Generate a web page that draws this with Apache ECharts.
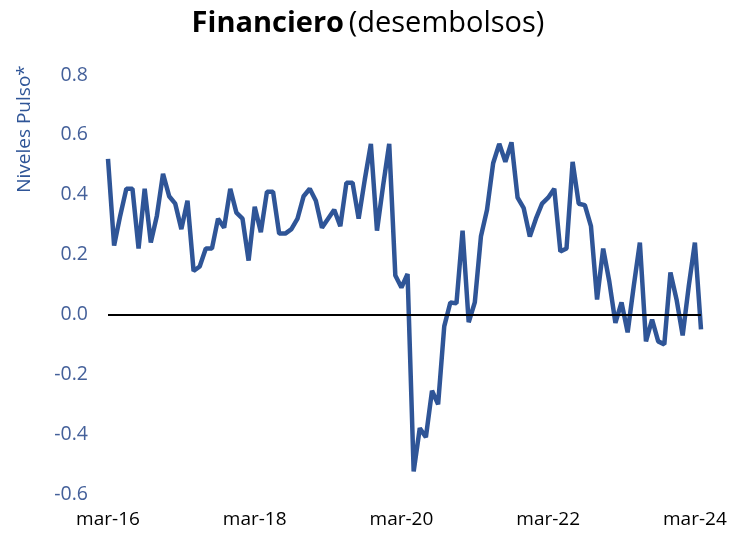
<!DOCTYPE html>
<html>
<head>
<meta charset="utf-8">
<script src="https://cdn.jsdelivr.net/npm/echarts@6/dist/echarts.min.js"></script>
<style>
  html, body { margin: 0; padding: 0; background: #fff; }
  #chart { width: 736px; height: 533px; }
</style>
</head>
<body>
<div id="chart"></div>
<script>
// meses mar-16 .. abr-24
var months = ['ene','feb','mar','abr','may','jun','jul','ago','sep','oct','nov','dic'];
var categories = [];
for (var k = 0; k < 98; k++) {
  var m = (2 + k) % 12;
  var y = 16 + Math.floor((2 + k) / 12);
  categories.push(months[m] + '-' + y);
}

// niveles pulso, financiero (desembolsos)
var pulso = [
  0.52, 0.23, 0.33, 0.42, 0.42, 0.22, 0.42, 0.24, 0.33, 0.47,
  0.395, 0.37, 0.285, 0.38, 0.145, 0.16, 0.22, 0.22, 0.32, 0.29,
  0.42, 0.34, 0.32, 0.18, 0.36, 0.275, 0.41, 0.41, 0.27, 0.27,
  0.285, 0.32, 0.395, 0.42, 0.38, 0.29, 0.32, 0.35, 0.295, 0.44,
  0.44, 0.32, 0.45, 0.57, 0.28, 0.43, 0.57, 0.13, 0.09, 0.135,
  -0.525, -0.38, -0.41, -0.255, -0.30, -0.04, 0.04, 0.037, 0.28, -0.026,
  0.04, 0.26, 0.35, 0.505, 0.57, 0.51, 0.575, 0.39, 0.355, 0.26,
  0.32, 0.37, 0.39, 0.42, 0.21, 0.22, 0.51, 0.37, 0.365, 0.295,
  0.05, 0.22, 0.11, -0.028, 0.04, -0.06, 0.095, 0.24, -0.09, -0.017,
  -0.09, -0.10, 0.14, 0.05, -0.07, 0.095, 0.24, -0.05
];

var chart = echarts.init(document.getElementById('chart'));

var option = {
  backgroundColor: '#fff',
  animation: false,
  textStyle: { fontFamily: 'Open Sans' },
  title: {
    text: '{b|Financiero} {n|(desembolsos)}',
    left: 'center',
    top: 4,
    textStyle: {
      rich: {
        b: { fontSize: 29, fontWeight: 'bold', color: '#000', fontFamily: 'Open Sans' },
        n: { fontSize: 29, fontWeight: 'normal', color: '#000', fontFamily: 'Open Sans' }
      }
    }
  },
  graphic: [{
    type: 'text',
    x: 25,
    y: 129,
    rotation: Math.PI / 2,
    style: {
      text: 'Niveles Pulso*',
      fill: '#2F5597',
      font: '19px "Open Sans"',
      textAlign: 'center',
      textVerticalAlign: 'middle'
    }
  }],
  grid: { left: 108, right: 35, top: 75, bottom: 39, outerBoundsMode: 'none', containLabel: false },
  xAxis: {
    type: 'category',
    data: categories,
    boundaryGap: false,
    axisLine: { show: false },
    axisTick: { show: false },
    axisLabel: {
      interval: 23,
      margin: 16,
      fontSize: 19,
      color: '#000'
    }
  },
  yAxis: {
    type: 'value',
    min: -0.6,
    max: 0.8,
    interval: 0.2,
    splitLine: { show: false },
    axisLine: { show: false },
    axisTick: { show: false },
    axisLabel: {
      fontSize: 19.5,
      color: '#44609A',
      margin: 20,
      formatter: function (v) { return v.toFixed(1); }
    }
  },
  series: [{
    type: 'line',
    data: pulso,
    symbol: 'none',
    lineStyle: { color: '#2F5597', width: 4.5 },
    markLine: {
      silent: true,
      symbol: 'none',
      label: { show: false },
      lineStyle: { color: '#000', width: 2, type: 'solid' },
      data: [{ yAxis: 0 }]
    }
  }]
};

chart.setOption(option);
</script>
</body>
</html>
